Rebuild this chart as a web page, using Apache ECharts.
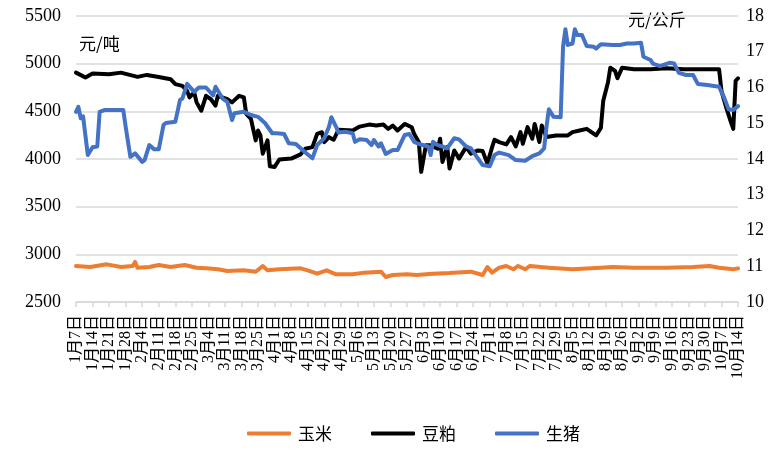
<!DOCTYPE html>
<html>
<head>
<meta charset="utf-8">
<script src="https://cdn.jsdelivr.net/npm/echarts@6/dist/echarts.min.js"></script>
<style>html,body{margin:0;padding:0;background:#fff;}#c{width:782px;height:461px;}</style>
</head>
<body>
<div id="c"></div>
<script>
const weekLabels = ['1月7日','1月14日','1月21日','1月28日','2月4日','2月11日','2月18日','2月25日','3月4日','3月11日','3月18日','3月25日','4月1日','4月8日','4月15日','4月22日','4月29日','5月6日','5月13日','5月20日','5月27日','6月3日','6月10日','6月17日','6月24日','7月1日','7月8日','7月15日','7月22日','7月29日','8月5日','8月12日','8月19日','8月26日','9月2日','9月9日','9月16日','9月23日','9月30日','10月7日','10月14日'];
const seriesNames = ['玉米','豆粕','生猪'];
const leftTicks = [2500,3000,3500,4000,4500,5000,5500];
const rightTicks = [10,11,12,13,14,15,16,17,18];

// day offsets from 1月7日
const cornDays = [0,6,13,19,24,25,26,31,35,40,46,51,55,60,64,71,76,79,81,86,95,98,102,106,110,117,122,129,131,134,140,144,151,158,167,172,174,176,179,182,185,187,190,192,200,210,222,227,236,250,261,268,272,278,280];
const cornValues = [2878,2867,2895,2867,2878,2920,2860,2867,2888,2867,2888,2860,2853,2843,2825,2832,2818,2878,2832,2843,2853,2832,2797,2832,2790,2790,2808,2818,2762,2783,2790,2783,2797,2804,2818,2783,2867,2808,2860,2878,2843,2878,2843,2878,2860,2843,2860,2867,2860,2860,2867,2878,2860,2843,2853];

const soyDays = [0,4,7,14,19,26,30,35,40,42,45,47,48,50,51,53,55,57,59,60,64,66,69,71,72,74,76,77,78,79,81,82,84,86,91,95,97,100,102,104,105,107,109,111,117,120,124,127,130,132,134,136,139,142,143,145,146,148,150,153,154,155,157,158,160,162,165,167,170,172,174,176,177,179,182,184,186,188,189,191,193,194,196,197,199,203,208,210,213,216,220,222,223,225,226,228,229,231,236,243,250,257,264,272,273,275,277,278,279,280];
const soyValues = [4906,4854,4896,4889,4906,4861,4882,4861,4837,4785,4767,4715,4646,4698,4594,4507,4663,4629,4560,4663,4629,4594,4663,4646,4473,4420,4195,4299,4247,4056,4195,3924,3917,3995,4004,4049,4108,4125,4264,4281,4177,4229,4202,4306,4299,4340,4361,4351,4361,4316,4351,4299,4368,4333,4264,4177,3865,4143,4143,4108,4212,3969,4125,3900,4090,4004,4125,4056,4090,4083,3952,4125,4202,4177,4153,4230,4132,4282,4160,4334,4212,4368,4178,4351,4230,4247,4247,4282,4299,4316,4247,4327,4611,4802,4958,4924,4847,4958,4941,4941,4951,4941,4941,4941,4715,4542,4386,4316,4820,4847];

const hogDays = [0,1,2,3,5,7,9,10,12,20,21,23,25,28,29,31,33,35,37,38,42,44,45,47,50,52,55,58,59,62,64,66,67,71,74,77,80,83,85,88,90,93,97,100,102,105,107,108,110,111,114,117,118,120,123,125,126,128,129,131,134,136,139,141,143,145,149,150,151,153,155,157,160,162,165,167,169,172,175,177,179,183,186,190,193,196,198,199,200,202,205,206,207,208,210,211,212,214,216,219,220,222,227,230,233,236,239,240,243,244,247,251,253,255,258,261,263,267,272,274,276,278,280];
const hogValues = [15.32,15.46,15.14,15.19,14.11,14.33,14.35,15.32,15.37,15.37,14.90,14.06,14.16,13.92,13.97,14.39,14.27,14.27,14.95,15.01,15.04,15.65,15.69,16.10,15.88,16.0,16.0,15.78,16.02,15.69,15.60,15.09,15.28,15.32,15.23,15.18,15.0,14.72,14.72,14.70,14.44,14.42,14.18,14.02,14.39,14.58,14.90,15.17,14.90,14.74,14.76,14.72,14.48,14.55,14.53,14.39,14.53,14.35,14.44,14.14,14.25,14.25,14.67,14.70,14.48,14.42,14.35,14.11,14.48,14.39,14.35,14.30,14.58,14.55,14.35,14.30,14.11,13.83,13.80,14.11,14.18,14.11,13.97,13.95,14.08,14.16,14.30,14.90,15.39,15.18,15.17,17.14,17.63,17.19,17.23,17.63,17.47,17.47,17.16,17.14,17.09,17.21,17.19,17.19,17.23,17.23,17.25,16.86,16.77,16.67,16.60,16.69,16.67,16.41,16.35,16.35,16.10,16.07,16.02,15.74,15.39,15.37,15.48];

const colors = ['#ED7D31','#000000','#4472C4'];
const pair = (ds, vs) => ds.map((d, i) => [d, vs[i]]);
const numFont = '"Liberation Serif", "Times New Roman", serif';
const cjkFont = '"Noto Sans CJK SC", sans-serif';

const chart = echarts.init(document.getElementById('c'), null, {renderer: 'canvas'});
const lineStyle = (c) => ({color: c, width: 4, cap: 'round', join: 'round'});
chart.setOption({
  animation: false,
  grid: {left: 76, right: 44, top: 16, bottom: 159, containLabel: false},
  legend: {
    left: 242, top: 420,
    itemWidth: 44, itemHeight: 4, itemGap: 39,
    icon: 'roundRect',
    textStyle: {fontFamily: cjkFont, fontSize: 17, color: '#000', padding: [0,0,0,2]},
    data: seriesNames
  },
  xAxis: {
    type: 'value', min: 0, max: weekLabels.length * 7 - 7, interval: 7,
    axisLine: {show: true, lineStyle: {color: '#d9d9d9', width: 1.5}},
    axisTick: {show: true, length: 5, lineStyle: {color: '#d9d9d9', width: 1.5}},
    splitLine: {show: false},
    axisLabel: {
      rotate: 90, margin: 13, fontSize: 16, color: '#000',
      fontFamily: '"Liberation Serif", "Noto Sans CJK SC", serif',
      padding: [0,0,6,0],
      formatter: (v) => weekLabels[Math.round(v / 7)] || ''
    }
  },
  yAxis: [{
    type: 'value', min: leftTicks[0], max: leftTicks[leftTicks.length-1], interval: 500,
    axisLine: {show: false}, axisTick: {show: false},
    splitLine: {lineStyle: {color: '#d9d9d9', width: 1.5}},
    axisLabel: {fontFamily: numFont, fontSize: 18, color: '#000', margin: 15, formatter: (v) => String(v)}
  }, {
    type: 'value', min: rightTicks[0], max: rightTicks[rightTicks.length-1], interval: 1,
    axisLine: {show: false}, axisTick: {show: false},
    splitLine: {show: false},
    axisLabel: {fontFamily: numFont, fontSize: 18, color: '#000', margin: 8, formatter: (v) => String(v)}
  }],
  graphic: [
    {type: 'text', left: 79, top: 35, style: {text: '元/吨', font: '17px "Noto Sans CJK SC"', fill: '#000'}},
    {type: 'text', left: 628, top: 11, style: {text: '元/公斤', font: '17px "Noto Sans CJK SC"', fill: '#000'}}
  ],
  series: [
    {name: seriesNames[0], type: 'line', yAxisIndex: 0, showSymbol: false, symbol: 'none', color: colors[0], lineStyle: lineStyle(colors[0]), data: pair(cornDays, cornValues), z: 3},
    {name: seriesNames[1], type: 'line', yAxisIndex: 0, showSymbol: false, symbol: 'none', color: colors[1], lineStyle: lineStyle(colors[1]), data: pair(soyDays, soyValues), z: 4},
    {name: seriesNames[2], type: 'line', yAxisIndex: 1, showSymbol: false, symbol: 'none', color: colors[2], lineStyle: lineStyle(colors[2]), data: pair(hogDays, hogValues), z: 5}
  ]
});
</script>
</body>
</html>
